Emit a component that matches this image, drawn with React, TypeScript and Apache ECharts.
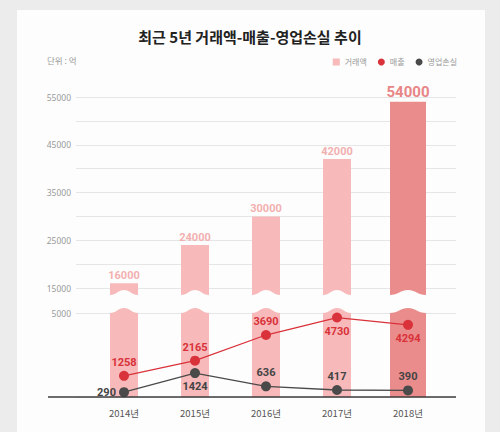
import React, { useEffect, useRef } from 'react';
import * as echarts from 'echarts';

// ---- data ----
const years = ['2014년', '2015년', '2016년', '2017년', '2018년'];
const gmv = [16000, 24000, 30000, 42000, 54000]; // 거래액
const sales = [1258, 2165, 3690, 4730, 4294]; // 매출
const loss = [290, 1424, 636, 417, 390]; // 영업손실
const upperRange = [15000, 55000];
const lowerRange = [0, 5000];
const tickStep = 5000;

// ---- styling (not data) ----
const salesLabelPos = ['top', 'top', 'top', 'bottom', 'bottom'];
const lossLabelPos = ['left', 'bottom', 'top', 'top', 'top'];
const HIGHLIGHT = 4;
const BAR_COLOR = '#f7b9b9';
const HI_COLOR = '#eb8c8c';
const BAR_LABEL = '#f2b0b0';
const HI_LABEL = '#e88686';
const RED = '#d9323a';
const DARK = '#4a4a4a';
const NUM_FONT = 'Roboto';
const KR_FONT = '"Noto Sans CJK KR", "Noto Sans", sans-serif';

const UP_TOP = 97;
const UP_BOTTOM = 432 - 288;
const LO_TOP = 313;
const LO_BOTTOM = 432 - 397;
const BG_LEFT = 76;
const BG_RIGHT = 44;
const S_LEFT = 88.5;
const S_RIGHT = 56.5;

const labelFmt = (v: number) => ((v / tickStep) % 2 === 1 ? String(v) : '');

const renderUpper = (params: any, api: any) => {
  const i = api.value(0);
  const v = api.value(1);
  const [xc, yTop] = api.coord([i, v]);
  const yBase = api.coord([i, upperRange[0]])[1];
  const hi = i === HIGHLIGHT;
  const w = hi ? 36 : 28;
  const x0 = xc - w / 2;
  const x1 = xc + w / 2;
  const yb = yBase + 7;
  const yc = yb - 5;
  const d = `M${x0},${yTop} L${x1},${yTop} L${x1},${yb} C${x1 - w * 0.22},${yb} ${xc + w * 0.2},${yc} ${xc},${yc} C${xc - w * 0.2},${yc} ${x0 + w * 0.22},${yb} ${x0},${yb} Z`;
  return {
    type: 'group',
    children: [
      { type: 'path', shape: { pathData: d }, style: { fill: hi ? HI_COLOR : BAR_COLOR } },
      {
        type: 'text',
        style: {
          text: String(v),
          x: xc,
          y: yTop - 2,
          align: 'center',
          verticalAlign: 'bottom',
          fill: hi ? HI_LABEL : BAR_LABEL,
          fontSize: hi ? 15 : 11,
          fontWeight: 'bold',
          fontFamily: NUM_FONT,
        },
      },
    ],
  };
};

const renderLower = (params: any, api: any) => {
  const i = api.value(0);
  const v = api.value(1);
  const hi = i === HIGHLIGHT;
  const w = hi ? 36 : 28;
  const broken = v > lowerRange[1];
  const [xc, ys] = api.coord([i, Math.min(v, lowerRange[1])]);
  const y0 = api.coord([i, 0])[1];
  const x0 = xc - w / 2;
  const x1 = xc + w / 2;
  const yc = ys - 5;
  const d = broken
    ? `M${x0},${y0} L${x0},${ys} C${x0 + w * 0.22},${ys} ${xc - w * 0.2},${yc} ${xc},${yc} C${xc + w * 0.2},${yc} ${x1 - w * 0.22},${ys} ${x1},${ys} L${x1},${y0} Z`
    : `M${x0},${y0} L${x0},${ys} L${x1},${ys} L${x1},${y0} Z`;
  return { type: 'path', shape: { pathData: d }, style: { fill: hi ? HI_COLOR : BAR_COLOR } };
};

export default function App() {
  const ref = useRef<HTMLDivElement>(null);
  useEffect(() => {
    if (!ref.current) return;
    const chart = echarts.init(ref.current, undefined, { renderer: 'svg' });
    const barData = gmv.map((v, i) => [i, v]);
    const bgY = (range: number[], idx: number) => ({
      type: 'value',
      gridIndex: idx,
      min: range[0],
      max: range[1],
      interval: tickStep,
      axisLine: { show: false },
      axisTick: { show: false },
      axisLabel: {
        formatter: labelFmt,
        color: '#9a9a9a',
        fontSize: 8.5,
        fontFamily: 'Noto Sans',
        margin: 5,
      },
      splitLine: { show: true, lineStyle: { color: '#e6e6e6', width: 1 } },
    });
    const hiddenY = (range: number[], idx: number) => ({
      type: 'value',
      gridIndex: idx,
      min: range[0],
      max: range[1],
      interval: tickStep,
      show: false,
      splitLine: { show: false },
    });
    const hiddenX = (idx: number) => ({
      type: 'category',
      gridIndex: idx,
      data: years,
      show: false,
    });
    chart.setOption({
      animation: false,
      title: [
        {
          text: '최근 5년 거래액-매출-영업손실 추이',
          left: 'center',
          top: 24,
          textStyle: { fontSize: 15, fontWeight: 'bold', color: '#222', fontFamily: KR_FONT },
        },
        {
          text: '단위 : 억',
          left: 42,
          top: 51,
          textStyle: { fontSize: 8.5, fontWeight: 'normal', color: '#9a9a9a', fontFamily: KR_FONT },
        },
      ],
      legend: {
        right: 38,
        top: 53,
        itemWidth: 7,
        itemHeight: 7,
        itemGap: 11,
        textStyle: { fontSize: 8, color: '#999', fontFamily: KR_FONT },
        data: [
          { name: '거래액', icon: 'rect' },
          { name: '매출', icon: 'circle' },
          { name: '영업손실', icon: 'circle' },
        ],
      },
      grid: [
        { left: BG_LEFT, right: BG_RIGHT, top: UP_TOP, bottom: UP_BOTTOM },
        { left: BG_LEFT, right: BG_RIGHT, top: LO_TOP, bottom: LO_BOTTOM },
        { left: S_LEFT, right: S_RIGHT, top: UP_TOP, bottom: UP_BOTTOM },
        { left: S_LEFT, right: S_RIGHT, top: LO_TOP, bottom: LO_BOTTOM },
      ],
      xAxis: [
        hiddenX(0),
        hiddenX(1),
        hiddenX(2),
        {
          type: 'category',
          gridIndex: 3,
          data: years,
          axisLine: { show: false },
          axisTick: { show: false },
          axisLabel: { color: '#555', fontSize: 9.5, fontFamily: KR_FONT, margin: 11 },
        },
      ],
      yAxis: [bgY(upperRange, 0), bgY(lowerRange, 1), hiddenY(upperRange, 2), hiddenY(lowerRange, 3)],
      graphic: [
        {
          type: 'line',
          z: 100,
          shape: { x1: 48, y1: 397, x2: 456, y2: 397 },
          style: { stroke: '#3c3c3c', lineWidth: 1.5 },
        },
      ],
      series: [
        {
          name: '거래액',
          type: 'custom',
          xAxisIndex: 2,
          yAxisIndex: 2,
          itemStyle: { color: BAR_COLOR },
          renderItem: renderUpper,
          data: barData,
        },
        {
          name: '거래액',
          type: 'custom',
          xAxisIndex: 3,
          yAxisIndex: 3,
          itemStyle: { color: BAR_COLOR },
          renderItem: renderLower,
          data: barData,
        },
        {
          name: '매출',
          type: 'line',
          xAxisIndex: 3,
          yAxisIndex: 3,
          symbol: 'circle',
          symbolSize: 10,
          itemStyle: { color: RED },
          lineStyle: { color: RED, width: 1.3 },
          label: {
            show: true,
            color: RED,
            fontSize: 11,
            fontWeight: 'bold',
            fontFamily: NUM_FONT,
            distance: 3,
          },
          data: sales.map((v, i) => ({ value: v, label: { position: salesLabelPos[i] } })),
        },
        {
          name: '영업손실',
          type: 'line',
          xAxisIndex: 3,
          yAxisIndex: 3,
          symbol: 'circle',
          symbolSize: 10,
          itemStyle: { color: DARK },
          lineStyle: { color: DARK, width: 1.3 },
          label: {
            show: true,
            color: '#444',
            fontSize: 11,
            fontWeight: 'bold',
            fontFamily: NUM_FONT,
            distance: 3,
          },
          data: loss.map((v, i) => ({ value: v, label: { position: lossLabelPos[i] } })),
        },
      ],
    });
    return () => chart.dispose();
  }, []);
  return (
    <div style={{ position: 'fixed', left: 0, top: 0, width: 500, height: 432, background: '#ececec' }}>
      <div
        style={{ position: 'absolute', left: 17, top: 10, width: 468, height: 422, background: '#fdfdfd' }}
      />
      <div ref={ref} style={{ position: 'absolute', left: 0, top: 0, width: 500, height: 432 }} />
    </div>
  );
}
